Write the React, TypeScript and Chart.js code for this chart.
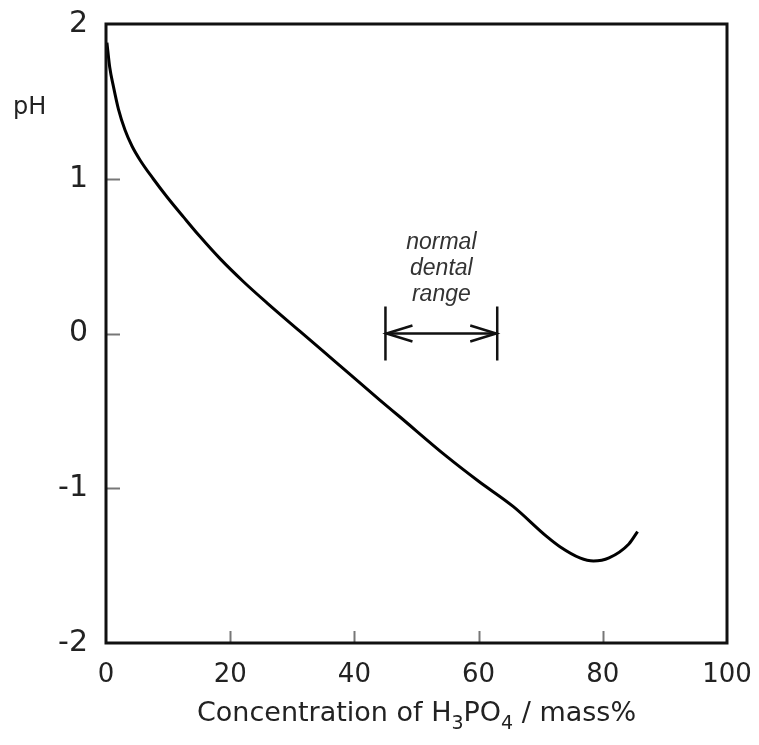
import { useEffect, useRef } from "react";
import { Chart, registerables } from "chart.js";

Chart.register(...registerables);

// Data
const concentration = [0.15, 0.6, 1.2, 2.0, 3.06, 4.2, 5.5, 7.6, 9.8, 12.5, 15.1, 18.4, 22.1, 26.0, 31.2, 37.0, 44.1, 47.3, 54.9, 60.0, 65.6, 71.0, 73.1, 76.3, 78.5, 81.0, 84.2, 85.6];
const phValues = [1.88, 1.72, 1.595, 1.45, 1.315, 1.21, 1.12, 1.0, 0.884, 0.752, 0.628, 0.482, 0.336, 0.195, 0.015, -0.185, -0.43, -0.538, -0.796, -0.955, -1.119, -1.313, -1.378, -1.45, -1.47, -1.45, -1.36, -1.28];

const xTickValues = [0, 20, 40, 60, 80, 100];
const yTickValues = [-2, -1, 0, 1, 2];
const innerXTicks = [20, 40, 60, 80];
const innerYTicks = [-1, 0, 1];

const rangeBounds = [45, 63];
const rangeArrowLevel = 0;
const rangeBarHalf = 0.175;
const rangeLabelLines = ["normal", "dental", "range"];
const rangeLabelCenterX = 54;
const rangeLabelLevels = [0.59, 0.42, 0.25];

const yAxisLabel = "pH";
const yAxisLabelLevel = 1.42;
const xTitleParts: { t: string; sub?: boolean }[] = [
  { t: "Concentration of H" },
  { t: "3", sub: true },
  { t: "PO" },
  { t: "4", sub: true },
  { t: " / mass%" },
];

const FONT = "'DejaVu Sans', 'Liberation Sans', Arial, sans-serif";
const ANNOT_FONT = "'Liberation Sans', Arial, sans-serif";

const decorPlugin = {
  id: "decor",
  afterDraw(chart: any) {
    const ctx = chart.ctx as CanvasRenderingContext2D;
    const { left, right, top, bottom } = chart.chartArea;
    const xs = chart.scales.x;
    const ys = chart.scales.y;
    ctx.save();

    // inner ticks
    ctx.strokeStyle = "#777";
    ctx.lineWidth = 2;
    innerYTicks.forEach((v) => {
      const py = Math.round(ys.getPixelForValue(v)) + 0.5;
      ctx.beginPath();
      ctx.moveTo(left, py);
      ctx.lineTo(left + 14, py);
      ctx.stroke();
    });
    innerXTicks.forEach((v) => {
      const px = Math.round(xs.getPixelForValue(v)) + 0.5;
      ctx.beginPath();
      ctx.moveTo(px, bottom);
      ctx.lineTo(px, bottom - 12);
      ctx.stroke();
    });

    // frame
    ctx.strokeStyle = "#111";
    ctx.lineWidth = 3;
    ctx.strokeRect(left, top, right - left, bottom - top);

    // pH label
    ctx.fillStyle = "#222";
    ctx.font = `24px ${FONT}`;
    ctx.textAlign = "left";
    ctx.textBaseline = "alphabetic";
    ctx.fillText(yAxisLabel, left - 93, ys.getPixelForValue(yAxisLabelLevel));

    // x title with subscripts
    const mainSize = 27;
    const subSize = 19;
    let total = 0;
    xTitleParts.forEach((p) => {
      ctx.font = `${p.sub ? subSize : mainSize}px ${FONT}`;
      total += ctx.measureText(p.t).width;
    });
    let cx = (left + right) / 2 - total / 2;
    const base = bottom + 78;
    xTitleParts.forEach((p) => {
      ctx.font = `${p.sub ? subSize : mainSize}px ${FONT}`;
      ctx.fillText(p.t, cx, p.sub ? base + 8 : base);
      cx += ctx.measureText(p.t).width;
    });

    // normal dental range annotation
    const x1 = xs.getPixelForValue(rangeBounds[0]);
    const x2 = xs.getPixelForValue(rangeBounds[1]);
    const ay = ys.getPixelForValue(rangeArrowLevel);
    const yTop = ys.getPixelForValue(rangeBarHalf);
    const yBot = ys.getPixelForValue(-rangeBarHalf);
    ctx.strokeStyle = "#111";
    ctx.lineWidth = 2.5;
    ctx.beginPath();
    ctx.moveTo(x1, yTop);
    ctx.lineTo(x1, yBot);
    ctx.moveTo(x2, yTop);
    ctx.lineTo(x2, yBot);
    ctx.moveTo(x1, ay);
    ctx.lineTo(x2, ay);
    ctx.stroke();
    ctx.beginPath();
    ctx.moveTo(x1 + 27, ay - 8);
    ctx.lineTo(x1 + 1, ay);
    ctx.lineTo(x1 + 27, ay + 8);
    ctx.moveTo(x2 - 27, ay - 8);
    ctx.lineTo(x2 - 1, ay);
    ctx.lineTo(x2 - 27, ay + 8);
    ctx.stroke();

    ctx.fillStyle = "#333";
    ctx.font = `italic 23px ${ANNOT_FONT}`;
    ctx.textAlign = "center";
    ctx.textBaseline = "middle";
    const tx = xs.getPixelForValue(rangeLabelCenterX);
    rangeLabelLines.forEach((line, i) => {
      ctx.fillText(line, tx, ys.getPixelForValue(rangeLabelLevels[i]));
    });

    ctx.restore();
  },
};

export default function App() {
  const canvasRef = useRef<HTMLCanvasElement | null>(null);

  useEffect(() => {
    if (!canvasRef.current) return;
    const points = concentration.map((x, i) => ({ x, y: phValues[i] }));
    const chart = new Chart(canvasRef.current, {
      type: "scatter",
      data: {
        datasets: [
          {
            data: points,
            showLine: true,
            borderColor: "#000",
            borderWidth: 3,
            pointRadius: 0,
            cubicInterpolationMode: "monotone",
            fill: false,
          },
        ],
      },
      options: {
        animation: false,
        responsive: false,
        layout: { padding: { top: 24, right: 32, left: 0, bottom: 0 } },
        plugins: {
          legend: { display: false },
          tooltip: { enabled: false },
        },
        scales: {
          x: {
            type: "linear",
            min: 0,
            max: 100,
            afterBuildTicks: (s: any) => {
              s.ticks = xTickValues.map((v) => ({ value: v }));
            },
            ticks: {
              autoSkip: false,
              maxRotation: 0,
              padding: 17,
              color: "#222",
              font: { family: FONT, size: 26 },
            },
            grid: { display: false, drawTicks: false },
            border: { display: false },
            afterFit: (s: any) => {
              s.height = 102;
              s.paddingLeft = 0;
              s.paddingRight = 0;
            },
          },
          y: {
            type: "linear",
            min: -2,
            max: 2,
            afterBuildTicks: (s: any) => {
              s.ticks = yTickValues.map((v) => ({ value: v }));
            },
            ticks: {
              autoSkip: false,
              padding: 18,
              color: "#222",
              font: { family: FONT, size: 30 },
            },
            grid: { display: false, drawTicks: false },
            border: { display: false },
            afterFit: (s: any) => {
              s.width = 106;
              s.paddingTop = 0;
              s.paddingBottom = 0;
            },
          },
        },
      },
      plugins: [decorPlugin],
    });
    return () => chart.destroy();
  }, []);

  return (
    <div style={{ position: "absolute", left: 0, top: 0, width: 759, height: 745, background: "#fff" }}>
      <canvas ref={canvasRef} width={759} height={745} style={{ display: "block" }} />
    </div>
  );
}
